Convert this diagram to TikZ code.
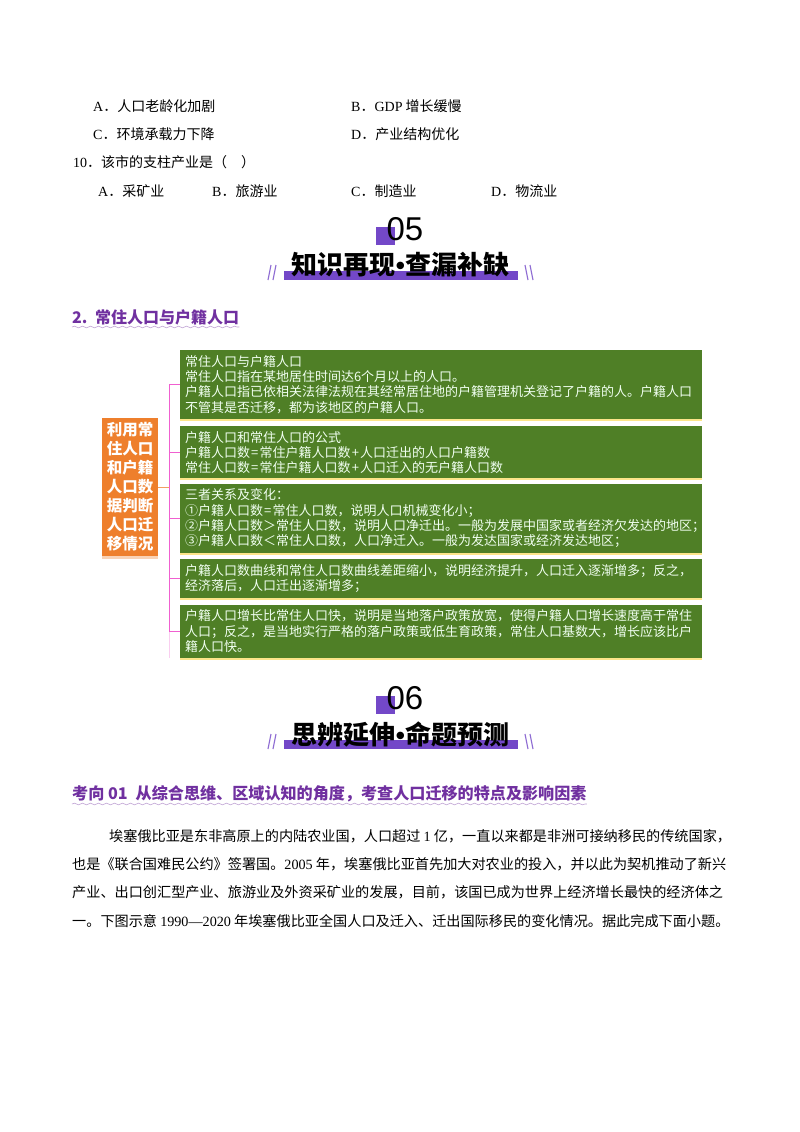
\documentclass[tikz,border=0pt]{standalone}
\usepackage{fontspec}
\setmainfont{Noto Sans CJK SC}
\newfontfamily\latfont{Liberation Serif}
\newfontfamily\numfont{Liberation Sans}
\usetikzlibrary{positioning,shadows,decorations.pathmorphing}

\definecolor{headpurple}{HTML}{7030A0}
\definecolor{barpurple}{HTML}{7348C8}
\definecolor{boxgreen}{HTML}{4F7F26}
\definecolor{boxedge}{HTML}{FCE58A}
\definecolor{rootorange}{HTML}{EE7F2C}
\definecolor{buspink}{HTML}{F060D0}

\newcommand{\lat}[1]{{\latfont #1}}
\newcommand{\fsz}[2]{\fontsize{#1}{#2}\selectfont}
\newcommand{\gp}{\hspace{1.2pt}}

\tikzset{
  plain/.style={anchor=west,inner sep=0pt,font=\fsz{14}{16}},
  paraline/.style={anchor=west,inner sep=0pt,font=\fsz{14.15}{16}},
  greenbox/.style={fill=boxgreen,text=white!94!green,minimum width=522pt,text width=512pt,
    inner xsep=5pt,inner ysep=0pt,align=left,font=\fsz{13}{15.3},
    general shadow={fill=boxedge,shadow yshift=-2pt}},
  rootbox/.style={fill=rootorange,text=white,minimum width=56pt,minimum height=138pt,
    inner sep=0pt,align=center,font=\fsz{15.5}{19}\bfseries,
    general shadow={fill=rootorange!35,shadow yshift=-2.5pt}},
  buslink/.style={draw=buspink,line width=1pt},
  rootlink/.style={draw=rootorange!75,line width=1pt},
  headtext/.style={anchor=west,inner sep=0pt,text=headpurple,font=\bfseries\fsz{16}{18}},
  wavyline/.style={draw=headpurple!45,line width=0.6pt,decorate,
    decoration={snake,amplitude=0.8pt,segment length=8pt}},
  slashline/.style={draw=barpurple!80,line width=1.1pt},
}

% banner with number and title
\newcommand{\bannerhead}[4]{%
  \begin{scope}[shift={(0,#2)}]
    \node[fill=barpurple,minimum width=19pt,minimum height=18pt,inner sep=0pt] (#1sq) at (385.5,236) {};
    \node[inner sep=0pt,font=\numfont\fsz{33}{36}] (#1num) at (405,229) {#3};
    \node[fill=barpurple,minimum width=234pt,minimum height=9pt,inner sep=0pt] (#1bar) at (400.5,275.5) {};
    \node[inner sep=0pt,font=\bfseries\fsz{26}{28}] (#1title) at (400.5,265) {#4};
    \foreach \dx in {0,5}{
      \draw[slashline] (268+\dx,280) -- (271+\dx,265);
      \draw[slashline] (533-\dx,280) -- (530-\dx,265);
    }
  \end{scope}}

\begin{document}
\begin{tikzpicture}[x=1pt,y=-1pt]
  \useasboundingbox[fill=white] (0,0) rectangle (800,1132);

  % question lines
  \node[plain] (qa) at (93,106) {\lat{A}．人口老龄化加剧};
  \node[plain] (qb) at (351,106) {\lat{B}．\lat{GDP} 增长缓慢};
  \node[plain] (qc) at (93,134) {\lat{C}．环境承载力下降};
  \node[plain] (qd) at (351,134) {\lat{D}．产业结构优化};
  \node[plain] (qten) at (73,162) {\lat{10}．该市的支柱产业是（\hspace{1em}）};
  \node[plain] (ra) at (98,191) {\lat{A}．采矿业};
  \node[plain] (rb) at (212,191) {\lat{B}．旅游业};
  \node[plain] (rc) at (351,191) {\lat{C}．制造业};
  \node[plain] (rd) at (491,191) {\lat{D}．物流业};

  \bannerhead{five}{0}{05}{知识再现{\numfont\bfseries •}查漏补缺}

  \node[headtext] (head2) at (72,317) {\makebox[23pt][l]{2.}常住人口与户籍人口};
  \draw[wavyline] (head2.west |- 0,327) -- (head2.east |- 0,327);

  % mind map
  \node[rootbox] (root) at (130,487) {利用常\\住人口\\和户籍\\人口数\\据判断\\人口迁\\移情况};

  \node[greenbox,minimum height=69pt] (box1) at (441,384.5) {常住人口与户籍人口\\
    常住人口指在某地居住时间达6个月以上的人口。\\
    户籍人口指已依相关法律法规在其经常居住地的户籍管理机关登记了户籍的人。户籍人口\\
    不管其是否迁移，都为该地区的户籍人口。};
  \node[greenbox,minimum height=52pt,below=7pt of box1] (box2) {户籍人口和常住人口的公式\\
    户籍人口数\gp=\gp 常住户籍人口数\gp+\gp 人口迁出的人口户籍数\\
    常住人口数\gp=\gp 常住户籍人口数\gp+\gp 人口迁入的无户籍人口数};
  \node[greenbox,minimum height=69pt,below=5pt of box2] (box3) {三者关系及变化：\\
    ①户籍人口数\gp=\gp 常住人口数，说明人口机械变化小；\\
    ②户籍人口数＞常住人口数，说明人口净迁出。一般为发展中国家或者经济欠发达的地区；\\
    ③户籍人口数＜常住人口数，人口净迁入。一般为发达国家或经济发达地区；};
  \node[greenbox,minimum height=39pt,below=6pt of box3] (box4) {户籍人口数曲线和常住人口数曲线差距缩小，说明经济提升，人口迁入逐渐增多；反之，\\
    经济落后，人口迁出逐渐增多；};
  \node[greenbox,minimum height=53pt,below=6pt of box4] (box5) {户籍人口增长比常住人口快，说明是当地落户政策放宽，使得户籍人口增长速度高于常住\\
    人口；反之，是当地实行严格的落户政策或低生育政策，常住人口基数大，增长应该比户\\
    籍人口快。};

  \coordinate[right=11pt of root] (bus);
  \coordinate (bustail) at (bus |- box5.south);
  \draw[rootlink] (root) -- (bus);
  \foreach \target in {box1,box2,box3,box4,box5}
    \draw[buslink] (bus) |- (\target.west);
  \draw[buslink,draw opacity=0.3] (bus |- box5.west) -- (bustail);

  \bannerhead{six}{469}{06}{思辨延伸{\numfont\bfseries •}命题预测}

  \node[headtext,font=\bfseries\fsz{16.1}{18}] (head3) at (72,794) {考向 01\hspace{0.5em}从综合思维、区域认知的角度，考查人口迁移的特点及影响因素};
  \draw[wavyline] (head3.west |- 0,804) -- (head3.east |- 0,804);

  % paragraph
  \node[paraline] (para1) at (109,836) {埃塞俄比亚是东非高原上的内陆农业国，人口超过 \lat{1} 亿，一直以来都是非洲可接纳移民的传统国家，};
  \node[paraline] (para2) at (72,864) {也是《联合国难民公约》签署国。\lat{2005} 年，埃塞俄比亚首先加大对农业的投入，并以此为契机推动了新兴};
  \node[paraline] (para3) at (72,892) {产业、出口创汇型产业、旅游业及外资采矿业的发展，目前，该国已成为世界上经济增长最快的经济体之};
  \node[paraline] (para4) at (72,921) {一。下图示意 \lat{1990—2020} 年埃塞俄比亚全国人口及迁入、迁出国际移民的变化情况。据此完成下面小题。};
\end{tikzpicture}
\end{document}
